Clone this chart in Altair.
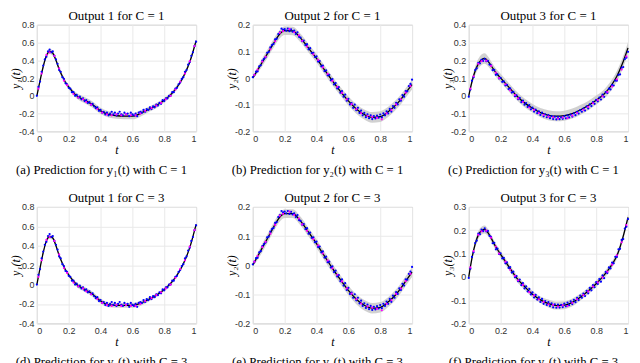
import altair as alt
import pandas as pd

# ---------------- data ----------------
T_OBS = [0.00, 0.01, 0.02, 0.03, 0.04, 0.05, 0.06, 0.07, 0.08, 0.09,
         0.10, 0.11, 0.12, 0.13, 0.14, 0.15, 0.16, 0.17, 0.18, 0.19,
         0.20, 0.21, 0.22, 0.23, 0.24, 0.25, 0.26, 0.27, 0.28, 0.29,
         0.30, 0.31, 0.32, 0.33, 0.34, 0.35, 0.36, 0.37, 0.38, 0.39,
         0.40, 0.41, 0.42, 0.43, 0.44, 0.45, 0.46, 0.47, 0.48, 0.49,
         0.50, 0.51, 0.52, 0.53, 0.54, 0.55, 0.56, 0.57, 0.58, 0.59,
         0.60, 0.61, 0.62, 0.63, 0.64, 0.65, 0.66, 0.67, 0.68, 0.69,
         0.70, 0.71, 0.72, 0.73, 0.74, 0.75, 0.76, 0.77, 0.78, 0.79,
         0.80, 0.81, 0.82, 0.83, 0.84, 0.85, 0.86, 0.87, 0.88, 0.89,
         0.90, 0.91, 0.92, 0.93, 0.94, 0.95, 0.96, 0.97, 0.98, 0.99,
         1.00]

OBS_Y1 = [0.00, 0.10, 0.16, 0.27, 0.34, 0.41, 0.44, 0.50, 0.52, 0.49,
          0.50, 0.45, 0.41, 0.36, 0.29, 0.27, 0.21, 0.19, 0.14, 0.13,
          0.09, 0.08, 0.04, 0.04, 0.00, 0.01, -0.02, -0.01, -0.04, -0.03,
          -0.06, -0.05, -0.08, -0.07, -0.10, -0.09, -0.12, -0.14, -0.13, -0.17,
          -0.16, -0.19, -0.18, -0.21, -0.19, -0.22, -0.20, -0.18, -0.21, -0.19,
          -0.22, -0.20, -0.18, -0.21, -0.22, -0.19, -0.21, -0.20, -0.23, -0.19,
          -0.21, -0.22, -0.20, -0.23, -0.19, -0.18, -0.19, -0.16, -0.18, -0.15,
          -0.16, -0.13, -0.15, -0.12, -0.13, -0.10, -0.11, -0.08, -0.09, -0.05,
          -0.06, -0.03, -0.03, 0.00, 0.00, 0.04, 0.04, 0.08, 0.09, 0.13,
          0.15, 0.19, 0.21, 0.27, 0.29, 0.35, 0.38, 0.45, 0.49, 0.56,
          0.61]

OBS_Y2 = [0.003, 0.012, 0.024, 0.025, 0.044, 0.048, 0.065, 0.072, 0.078, 0.095,
          0.098, 0.115, 0.124, 0.128, 0.145, 0.148, 0.165, 0.172, 0.186, 0.181,
          0.184, 0.178, 0.186, 0.176, 0.183, 0.174, 0.178, 0.165, 0.172, 0.155,
          0.152, 0.139, 0.141, 0.124, 0.127, 0.108, 0.112, 0.094, 0.095, 0.079,
          0.081, 0.062, 0.064, 0.044, 0.047, 0.026, 0.029, 0.010, 0.012, -0.008,
          -0.004, -0.024, -0.019, -0.039, -0.034, -0.055, -0.049, -0.070, -0.062, -0.085,
          -0.078, -0.099, -0.094, -0.112, -0.100, -0.121, -0.112, -0.131, -0.122, -0.140,
          -0.131, -0.147, -0.136, -0.151, -0.140, -0.154, -0.143, -0.152, -0.141, -0.149,
          -0.137, -0.148, -0.133, -0.140, -0.125, -0.133, -0.116, -0.126, -0.105, -0.112,
          -0.093, -0.099, -0.080, -0.085, -0.064, -0.070, -0.049, -0.050, -0.030, -0.022,
          -0.006]

OBS_Y3 = [-0.005, 0.035, 0.085, 0.105, 0.145, 0.155, 0.185, 0.183, 0.203, 0.196,
          0.208, 0.195, 0.197, 0.176, 0.171, 0.144, 0.146, 0.118, 0.121, 0.098,
          0.101, 0.079, 0.081, 0.058, 0.062, 0.038, 0.042, 0.018, 0.022, -0.002,
          0.003, -0.019, -0.012, -0.036, -0.027, -0.050, -0.041, -0.063, -0.052, -0.076,
          -0.067, -0.089, -0.078, -0.098, -0.088, -0.108, -0.095, -0.116, -0.104, -0.121,
          -0.109, -0.126, -0.114, -0.131, -0.118, -0.133, -0.119, -0.132, -0.121, -0.130,
          -0.115, -0.127, -0.111, -0.122, -0.106, -0.117, -0.099, -0.109, -0.091, -0.100,
          -0.081, -0.090, -0.072, -0.083, -0.060, -0.071, -0.048, -0.058, -0.036, -0.045,
          -0.023, -0.031, -0.010, -0.021, 0.006, -0.006, 0.021, 0.016, 0.040, 0.036,
          0.061, 0.058, 0.086, 0.085, 0.118, 0.120, 0.158, 0.162, 0.207, 0.215,
          0.248]

T_MAG = [0.01, 0.03, 0.06, 0.08, 0.11, 0.14, 0.17, 0.19, 0.23, 0.26, 0.29, 0.31,
         0.34, 0.38, 0.41, 0.44, 0.47, 0.50, 0.53, 0.56, 0.59, 0.62, 0.65, 0.68,
         0.72, 0.75, 0.78, 0.81, 0.84, 0.87, 0.90, 0.93, 0.96, 0.99]
MAG_Y1 = [0.08, 0.25, 0.46, 0.49, 0.45, 0.31, 0.17, 0.12, 0.02, -0.02, -0.04, -0.07,
          -0.10, -0.15, -0.19, -0.21, -0.22, -0.21, -0.22, -0.21, -0.22, -0.22, -0.20, -0.17,
          -0.14, -0.11, -0.08, -0.04, 0.00, 0.07, 0.16, 0.25, 0.39, 0.56]
MAG_Y2 = [0.012, 0.032, 0.062, 0.080, 0.108, 0.138, 0.170, 0.176, 0.184, 0.172, 0.160, 0.140,
          0.118, 0.089, 0.068, 0.040, 0.016, -0.011, -0.033, -0.056, -0.080, -0.098, -0.117, -0.132,
          -0.142, -0.146, -0.150, -0.155, -0.133, -0.120, -0.099, -0.080, -0.055, -0.030]
MAG_Y3 = [0.040, 0.110, 0.180, 0.195, 0.198, 0.168, 0.130, 0.100, 0.065, 0.030, 0.004, -0.015,
          -0.035, -0.066, -0.080, -0.097, -0.108, -0.118, -0.121, -0.128, -0.123, -0.126, -0.112, -0.097,
          -0.079, -0.063, -0.042, -0.024, -0.003, 0.022, 0.052, 0.092, 0.148, 0.222]

T_FIT = [0.00, 0.02, 0.04, 0.06, 0.08, 0.10, 0.12, 0.14, 0.16, 0.18, 0.20, 0.25, 0.30, 0.35,
         0.40, 0.45, 0.50, 0.55, 0.60, 0.65, 0.70, 0.75, 0.80, 0.85, 0.90, 0.93, 0.96, 1.00]

MEAN_Y1_C1 = [0.0, 0.17, 0.33, 0.45, 0.50, 0.48, 0.40, 0.30, 0.22, 0.15, 0.10, 0.00, -0.05, -0.10,
              -0.17, -0.21, -0.225, -0.23, -0.23, -0.20, -0.155, -0.11, -0.05, 0.03, 0.15, 0.25, 0.38, 0.62]
HW_Y1_C1 = [0.006, 0.018, 0.025, 0.025, 0.03, 0.03, 0.025, 0.025, 0.025, 0.025, 0.025, 0.03, 0.035, 0.035,
            0.035, 0.035, 0.035, 0.035, 0.035, 0.035, 0.03, 0.03, 0.025, 0.025, 0.025, 0.025, 0.02, 0.012]
MEAN_Y1_C3 = [0.0, 0.17, 0.33, 0.45, 0.495, 0.48, 0.40, 0.30, 0.22, 0.15, 0.10, 0.00, -0.05, -0.10,
              -0.17, -0.21, -0.215, -0.215, -0.215, -0.195, -0.155, -0.11, -0.05, 0.03, 0.15, 0.25, 0.38, 0.62]
HW_Y1_C3 = [0.005, 0.014, 0.018, 0.018, 0.022, 0.022, 0.018, 0.018, 0.018, 0.018, 0.018, 0.022, 0.025, 0.025,
            0.025, 0.025, 0.025, 0.025, 0.025, 0.025, 0.022, 0.018, 0.018, 0.018, 0.018, 0.018, 0.015, 0.012]

MEAN_Y2_C1 = [0.0, 0.02, 0.04, 0.06, 0.08, 0.10, 0.12, 0.14, 0.158, 0.172, 0.178, 0.177, 0.15, 0.112,
              0.074, 0.031, -0.011, -0.05, -0.086, -0.116, -0.137, -0.148, -0.145, -0.127, -0.10, -0.08, -0.056, -0.025]
HW_Y2_C1 = [0.005, 0.01, 0.013, 0.015, 0.016, 0.016, 0.016, 0.016, 0.016, 0.016, 0.016, 0.016, 0.016, 0.016,
            0.016, 0.016, 0.016, 0.016, 0.017, 0.018, 0.019, 0.02, 0.02, 0.019, 0.018, 0.018, 0.018, 0.018]
MEAN_Y2_C3 = [0.0, 0.02, 0.04, 0.06, 0.08, 0.10, 0.12, 0.14, 0.158, 0.171, 0.177, 0.177, 0.151, 0.113,
              0.074, 0.031, -0.011, -0.05, -0.087, -0.117, -0.138, -0.148, -0.145, -0.127, -0.10, -0.079, -0.055, -0.024]
HW_Y2_C3 = [0.005, 0.01, 0.013, 0.015, 0.015, 0.015, 0.015, 0.015, 0.015, 0.015, 0.015, 0.015, 0.015, 0.015,
            0.015, 0.015, 0.015, 0.015, 0.016, 0.017, 0.018, 0.018, 0.018, 0.017, 0.017, 0.017, 0.017, 0.017]

MEAN_Y3_C1 = [0.0, 0.08, 0.14, 0.18, 0.203, 0.21, 0.195, 0.17, 0.143, 0.12, 0.10, 0.05, 0.0, -0.04,
              -0.07, -0.095, -0.11, -0.115, -0.112, -0.10, -0.08, -0.055, -0.025, 0.01, 0.065, 0.11, 0.17, 0.27]
HW_Y3_C1 = [0.01, 0.018, 0.024, 0.028, 0.03, 0.03, 0.028, 0.025, 0.024, 0.024, 0.024, 0.024, 0.024, 0.024,
            0.024, 0.026, 0.028, 0.028, 0.028, 0.028, 0.028, 0.026, 0.026, 0.026, 0.028, 0.03, 0.032, 0.032]
MEAN_Y3_C3 = [0.0, 0.08, 0.14, 0.18, 0.198, 0.203, 0.19, 0.167, 0.14, 0.117, 0.096, 0.045, -0.005, -0.042,
              -0.075, -0.099, -0.115, -0.124, -0.122, -0.11, -0.088, -0.061, -0.03, 0.007, 0.053, 0.09, 0.15, 0.255]
HW_Y3_C3 = [0.006, 0.012, 0.015, 0.017, 0.017, 0.017, 0.015, 0.014, 0.014, 0.014, 0.014, 0.014, 0.014, 0.014,
            0.014, 0.014, 0.017, 0.017, 0.017, 0.017, 0.015, 0.014, 0.014, 0.014, 0.014, 0.014, 0.014, 0.014]

X_TICKS = [0, 0.2, 0.4, 0.6, 0.8, 1]
TICKS_Y1 = [-0.4, -0.2, 0, 0.2, 0.4, 0.6, 0.8]
TICKS_Y2 = [-0.2, -0.1, 0, 0.1, 0.2]
TICKS_Y3_C1 = [-0.2, -0.1, 0, 0.1, 0.2, 0.3, 0.4]
TICKS_Y3_C3 = [-0.2, -0.1, 0, 0.1, 0.2, 0.3]

TITLES = ["Output 1 for C = 1", "Output 2 for C = 1", "Output 3 for C = 1",
          "Output 1 for C = 3", "Output 2 for C = 3", "Output 3 for C = 3"]
CAPTIONS = ["(a) Prediction for y\u2081(t) with C = 1",
            "(b) Prediction for y\u2082(t) with C = 1",
            "(c) Prediction for y\u2083(t) with C = 1",
            "(d) Prediction for y\u2081(t) with C = 3",
            "(e) Prediction for y\u2082(t) with C = 3",
            "(f) Prediction for y\u2083(t) with C = 3"]
Y_TITLES = ["y\u2081(t)", "y\u2082(t)", "y\u2083(t)"]

# ---------------- styling ----------------
SERIF = "Liberation Serif"
SANS = "Liberation Sans"
LABEL_EXPR = "replace(format(datum.value, '~g'), '\u2212', '-')"
W = 160
H1 = 107
H2 = 117


def panel(obs_y, mag_y, mean, hw, title, caption, ytitle, domain, ticks, h):
    obs = pd.DataFrame({"t": T_OBS, "y": obs_y})
    mag = pd.DataFrame({"t": T_MAG, "y": mag_y})
    fit = pd.DataFrame({"t": T_FIT, "y": mean,
                        "lo": [m - e for m, e in zip(mean, hw)],
                        "hi": [m + e for m, e in zip(mean, hw)]})
    cap = pd.DataFrame({"c": [caption]})

    xenc = alt.X("t:Q", scale=alt.Scale(domain=[0, 1], nice=False, zero=False),
                 axis=alt.Axis(values=X_TICKS, title="t", labelExpr=LABEL_EXPR,
                               labelPadding=3, titlePadding=1))
    yaxis = alt.Axis(values=ticks, title=ytitle, labelExpr=LABEL_EXPR,
                     labelPadding=3, titlePadding=-4)
    yscale = alt.Scale(domain=domain, nice=False, zero=False)

    band = alt.Chart(fit).mark_area(color="#c6c6c6", opacity=0.8, interpolate="monotone").encode(
        x=xenc, y=alt.Y("lo:Q", scale=yscale, axis=yaxis), y2="hi:Q")
    line = alt.Chart(fit).mark_line(color="black", strokeWidth=1.3, interpolate="monotone").encode(
        x=xenc, y=alt.Y("y:Q", scale=yscale, axis=yaxis))
    blue = alt.Chart(obs).mark_circle(color="#0000ff", size=5, opacity=1).encode(
        x=xenc, y=alt.Y("y:Q", scale=yscale, axis=yaxis))
    pink = alt.Chart(mag).mark_circle(color="#ff00ff", size=5, opacity=1).encode(
        x=xenc, y=alt.Y("y:Q", scale=yscale, axis=yaxis))
    text = alt.Chart(cap).mark_text(font=SERIF, fontSize=12.8, color="black",
                                    align="center", baseline="middle").encode(
        text="c:N", x=alt.value(65), y=alt.value(h + 39))

    return alt.layer(band, line, blue, pink, text).properties(
        width=W, height=h,
        title=alt.TitleParams(text=title, font=SERIF, fontSize=13, fontWeight="normal",
                              color="black", offset=-2, frame="group"))


panels = [
    panel(OBS_Y1, MAG_Y1, MEAN_Y1_C1, HW_Y1_C1, TITLES[0], CAPTIONS[0], Y_TITLES[0], [-0.4, 0.8], TICKS_Y1, H1),
    panel(OBS_Y2, MAG_Y2, MEAN_Y2_C1, HW_Y2_C1, TITLES[1], CAPTIONS[1], Y_TITLES[1], [-0.2, 0.2], TICKS_Y2, H1),
    panel(OBS_Y3, MAG_Y3, MEAN_Y3_C1, HW_Y3_C1, TITLES[2], CAPTIONS[2], Y_TITLES[2], [-0.2, 0.4], TICKS_Y3_C1, H1),
    panel(OBS_Y1, MAG_Y1, MEAN_Y1_C3, HW_Y1_C3, TITLES[3], CAPTIONS[3], Y_TITLES[0], [-0.4, 0.8], TICKS_Y1, H2),
    panel(OBS_Y2, MAG_Y2, MEAN_Y2_C3, HW_Y2_C3, TITLES[4], CAPTIONS[4], Y_TITLES[1], [-0.2, 0.2], TICKS_Y2, H2),
    panel(OBS_Y3, MAG_Y3, MEAN_Y3_C3, HW_Y3_C3, TITLES[5], CAPTIONS[5], Y_TITLES[2], [-0.2, 0.3], TICKS_Y3_C3, H2),
]

chart = alt.concat(*panels, columns=3, spacing={"row": 76, "column": 57}, bounds="flush").properties(
    padding={"left": 0, "top": 0, "right": 0, "bottom": 0}
).configure_view(
    stroke="#b5b5b5", strokeWidth=1
).configure_axis(
    grid=True, gridColor="#e9e9e9", gridWidth=1, domain=False, ticks=False, tickSize=0,
    labelFont=SANS, labelFontSize=9, labelColor="#303030",
    titleFont=SERIF, titleFontSize=12, titleFontStyle="italic", titleFontWeight="normal",
    titleColor="black"
)

chart.save("out.html", embed_options={"renderer": "svg", "actions": False})
